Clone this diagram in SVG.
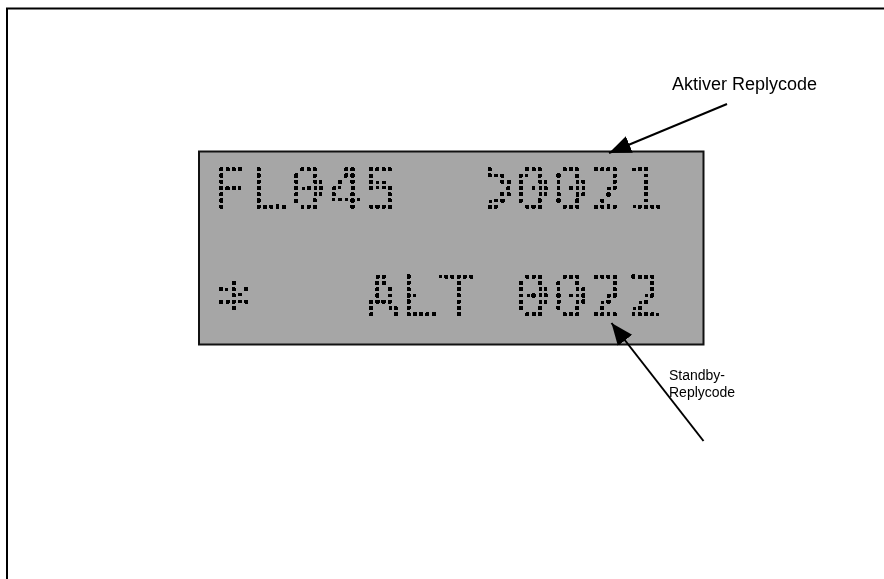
<svg xmlns="http://www.w3.org/2000/svg" width="884" height="579" viewBox="0 0 884 579">
  <style>
    .label { font-family: "Liberation Sans", Arial, sans-serif; font-size: 14px; fill: #000; }
    .big { font-size: 18px; }
    .lcdtext { font-family: "DejaVu Sans Mono", "Liberation Mono", monospace; font-size: 59px; white-space: pre; stroke-width: 1.1; }
    .conn { stroke: #000; stroke-width: 2; fill: none; }
  </style>
  <defs>
    <pattern id="pts1" patternUnits="userSpaceOnUse" x="218.1775" y="166.175" width="6.245" height="6.25">
      <rect x="2.1225" y="2.125" width="2" height="2" fill="#000"/>
    </pattern>
    <pattern id="pts1gt" patternUnits="userSpaceOnUse" x="218.1775" y="166.175" width="6.245" height="6.25" patternTransform="scale(1.07527,0.540541) translate(-482.6,-223.3)">
      <rect x="2.1225" y="2.125" width="2" height="2" fill="#000"/>
    </pattern>
    <pattern id="pts2" patternUnits="userSpaceOnUse" x="218.1775" y="273.575" width="6.245" height="6.25">
      <rect x="2.1225" y="2.125" width="2" height="2" fill="#000"/>
    </pattern>
    <filter id="dotify" filterUnits="userSpaceOnUse" x="200" y="153" width="500" height="190" color-interpolation-filters="sRGB">
      <feMorphology in="SourceAlpha" operator="dilate" radius="1" result="d"/>
      <feComponentTransfer in="d">
        <feFuncA type="discrete" tableValues="0 0 1 1"/>
      </feComponentTransfer>
    </filter>
    <marker id="head" markerUnits="userSpaceOnUse" markerWidth="24" markerHeight="20" viewBox="0 0 24 20" refX="22" refY="10" orient="auto">
      <path d="M0,1 L22,10 L0,19 Z" fill="#000"/>
    </marker>
  </defs>

  <rect width="884" height="579" fill="#fff"/>

  <g id="frame">
    <path d="M7,580 V8.5 H886" fill="none" stroke="#000" stroke-width="2"/>
  </g>

  <g id="lcd">
    <rect x="199" y="151.5" width="504.5" height="193" fill="#a6a6a6" stroke="#111" stroke-width="2"/>
    <g filter="url(#dotify)">
      <text class="lcdtext" xml:space="preserve" fill="url(#pts1)" stroke="url(#pts1)" x="209.65 252.12 289.59 327.06 364.53" y="209.5">FL045</text>
      <text class="lcdtext" fill="url(#pts1gt)" stroke="url(#pts1gt)" style="stroke-width:0.8" transform="translate(482.6,223.3) scale(0.93,1.85)" x="0" y="0">&gt;</text>
      <text class="lcdtext" xml:space="preserve" fill="url(#pts1)" stroke="url(#pts1)" x="514.41 551.88 589.35 626.82" y="209.5">0021</text>
      <text class="lcdtext" fill="url(#pts2)" stroke="url(#pts2)" style="font-size:70px" x="213.3" y="331.5">*</text>
      <text class="lcdtext" xml:space="preserve" fill="url(#pts2)" stroke="url(#pts2)" x="364.53 402.0 439.47 476.94 514.41 551.88 589.35 626.82" y="316.9">ALT 0022</text>
    </g>
  </g>

  <g id="label-active">
    <text class="label big" x="672" y="90">Aktiver Replycode</text>
  </g>
  <g id="label-standby">
    <text class="label" x="669" y="380">Standby-</text>
    <text class="label" x="669" y="397">Replycode</text>
  </g>

  <g id="connectors">
    <line class="conn" x1="727" y1="104" x2="609" y2="153" marker-end="url(#head)"/>
    <line class="conn" x1="703.5" y1="441" x2="611.5" y2="323" marker-end="url(#head)"/>
  </g>
</svg>
